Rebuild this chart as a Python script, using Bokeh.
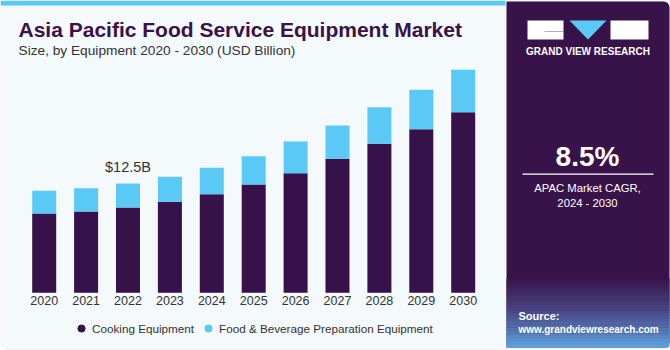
from bokeh.plotting import figure
from bokeh.models import (ColumnDataSource, Range1d, BoxAnnotation, Label, PolyAnnotation,
                          Legend, LegendItem)
from bokeh.core.properties import value
from bokeh.embed import file_html
from bokeh.resources import INLINE

# ---- data ----
years = [2020, 2021, 2022, 2023, 2024, 2025, 2026, 2027, 2028, 2029, 2030]
year_labels = [str(y) for y in years]
cooking = [9.07, 9.30, 9.76, 10.41, 11.28, 12.39, 13.68, 15.32, 17.04, 18.71, 20.65]
prep = [2.60, 2.66, 2.74, 2.86, 3.02, 3.23, 3.62, 3.81, 4.19, 4.51, 4.85]
series_names = ["Cooking Equipment", "Food & Beverage Preparation Equipment"]
annot_year = 2022
annot_text = "$12.5B"
cagr_text = "8.5%"

# ---- colors ----
C_COOK = "#371149"
C_PREP = "#5bc9f5"
C_BG = "#f4f9fc"
C_PANEL = "#381349"
C_TXT = "#333333"
C_TITLE = "#3a1248"

W, H = 670, 350
px_per_year = 41.9
x0 = years[0] - 43.7 / px_per_year
px_per_b = 8.744
y0 = -57.7 / px_per_b

p = figure(width=W, height=H, output_backend="svg", toolbar_location=None,
           x_range=Range1d(x0, x0 + W / px_per_year),
           y_range=Range1d(y0, y0 + H / px_per_b),
           min_border=0, min_border_left=0, min_border_right=0,
           min_border_top=0, min_border_bottom=0)
p.axis.visible = False
p.grid.visible = False
p.outline_line_color = None
p.background_fill_color = "white"
p.border_fill_color = "white"

def Y(top_px):  # screen y measured from bottom
    return H - top_px

def box(l, r, t, b, **kw):
    return BoxAnnotation(left=l, right=r, top=Y(t), bottom=Y(b),
                         left_units="screen", right_units="screen",
                         top_units="screen", bottom_units="screen", **kw)

# left card
p.add_layout(box(0.5, 669.5, 0.5, 348.5, fill_color=C_BG, fill_alpha=1,
                 line_color="#d4d7da", line_width=1, border_radius=6, level="underlay"))
# top stripe
p.add_layout(box(0, 505, 0, 5, fill_color=C_PREP, fill_alpha=1, line_color=None, level="underlay"))
# right dark panel
p.add_layout(box(506, 669, 1, 347, fill_color=C_PANEL, fill_alpha=1, line_color=None,
                 border_radius=dict(top_left=0, top_right=6, bottom_right=6, bottom_left=0),
                 level="underlay"))

def lerp(c1, c2, t):
    a = [int(c1[i:i + 2], 16) for i in (1, 3, 5)]
    b = [int(c2[i:i + 2], 16) for i in (1, 3, 5)]
    return "#%02x%02x%02x" % tuple(int(round(a[k] + (b[k] - a[k]) * t)) for k in range(3))

g_top, g_bot = 278, 347
steps = 24
for i in range(steps):
    t0 = g_top + (g_bot - g_top) * i / steps
    t1 = g_top + (g_bot - g_top) * (i + 1) / steps
    t = (i + 0.5) / steps
    col = lerp(C_PANEL, "#4a4b8a", t / 0.5) if t < 0.5 else lerp("#4a4b8a", "#5fa3dc", (t - 0.5) / 0.5)
    p.add_layout(box(506, 669, t0, t1 + 0.3, fill_color=col, fill_alpha=1, line_color=None,
                     border_radius=dict(top_left=0, top_right=0,
                                        bottom_right=6 if i == steps - 1 else 0, bottom_left=0),
                     level="underlay"))

# ---- bars ----
src = ColumnDataSource(dict(x=years, cook=cooking, prep=prep))
p.vbar_stack(["cook", "prep"], x="x", width=0.573, source=src,
             color=[C_COOK, C_PREP], line_color=None)

p.text(x=years, y=[0] * len(years), text=year_labels, y_offset=3,
       text_align="center", text_baseline="top", text_font=value("Liberation Sans"),
       text_font_size="12.5px", text_color=C_TXT)

i22 = years.index(annot_year)
p.text(x=[annot_year], y=[cooking[i22] + prep[i22]], text=[annot_text], y_offset=-9,
       text_align="center", text_baseline="bottom", text_font=value("Liberation Sans"),
       text_font_size="14.5px", text_color=C_TXT)

# ---- titles ----
p.add_layout(Label(x=18, y=Y(28.5), x_units="screen", y_units="screen",
                   text="Asia Pacific Food Service Equipment Market",
                   text_font="Liberation Sans", text_font_style="bold",
                   text_font_size="21px", text_color=C_TITLE, text_baseline="middle"))
p.add_layout(Label(x=18, y=Y(49.5), x_units="screen", y_units="screen",
                   text="Size, by Equipment 2020 - 2030 (USD Billion)",
                   text_font="Liberation Sans", text_font_size="13.7px",
                   text_color=C_TXT, text_baseline="middle"))

# ---- legend ----
r1 = p.scatter(x=[x0 - 50], y=[y0 - 50], marker="circle", size=10, color=C_COOK)
r2 = p.scatter(x=[x0 - 50], y=[y0 - 50], marker="circle", size=10, color=C_PREP)
leg = Legend(items=[LegendItem(label=series_names[0], renderers=[r1]),
                    LegendItem(label=series_names[1], renderers=[r2])],
             orientation="horizontal", location=(72, 10),
             background_fill_alpha=0, border_line_color=None,
             label_text_font="Liberation Sans", label_text_font_size="11.7px",
             label_text_color=C_TXT, glyph_width=18, glyph_height=24,
             spacing=5, label_standoff=2, padding=0, margin=0)
p.add_layout(leg, "center")

# ---- right panel content ----
for l, r in ((527, 563), (610, 648)):
    p.add_layout(box(l, r, 20, 39, fill_color="white", fill_alpha=1, line_color=None))
p.add_layout(box(544, 563, 30.5, 31.3, fill_color="#9a93a8", fill_alpha=1, line_color=None))
p.add_layout(PolyAnnotation(xs=[569, 606, 587.5], ys=[Y(20), Y(20), Y(39)],
                            xs_units="screen", ys_units="screen",
                            fill_color=C_PREP, fill_alpha=1, line_color=None))
p.add_layout(Label(x=587.5, y=Y(51), x_units="screen", y_units="screen",
                   text="GRAND VIEW RESEARCH", text_align="center", text_baseline="middle",
                   text_font="Liberation Sans", text_font_style="bold",
                   text_font_size="10px", text_color="white"))

p.add_layout(Label(x=587, y=Y(155.5), x_units="screen", y_units="screen",
                   text=cagr_text, text_align="center", text_baseline="middle",
                   text_font="Liberation Sans", text_font_style="bold",
                   text_font_size="28px", text_color="white"))
p.add_layout(box(522, 653, 173, 174.2, fill_color="white", fill_alpha=1, line_color=None))
p.add_layout(Label(x=587, y=Y(187), x_units="screen", y_units="screen",
                   text="APAC Market CAGR,", text_align="center", text_baseline="middle",
                   text_font="Liberation Sans", text_font_size="11.3px", text_color="white"))
p.add_layout(Label(x=587, y=Y(202.5), x_units="screen", y_units="screen",
                   text="2024 - 2030", text_align="center", text_baseline="middle",
                   text_font="Liberation Sans", text_font_size="11.3px", text_color="white"))

p.add_layout(Label(x=518, y=Y(315), x_units="screen", y_units="screen",
                   text="Source:", text_baseline="middle",
                   text_font="Liberation Sans", text_font_style="bold",
                   text_font_size="11px", text_color="white"))
p.add_layout(Label(x=518, y=Y(329), x_units="screen", y_units="screen",
                   text="www.grandviewresearch.com", text_baseline="middle",
                   text_font="Liberation Sans", text_font_style="bold",
                   text_font_size="10px", text_color="white"))

open("out.html", "w").write(file_html(p, INLINE))
